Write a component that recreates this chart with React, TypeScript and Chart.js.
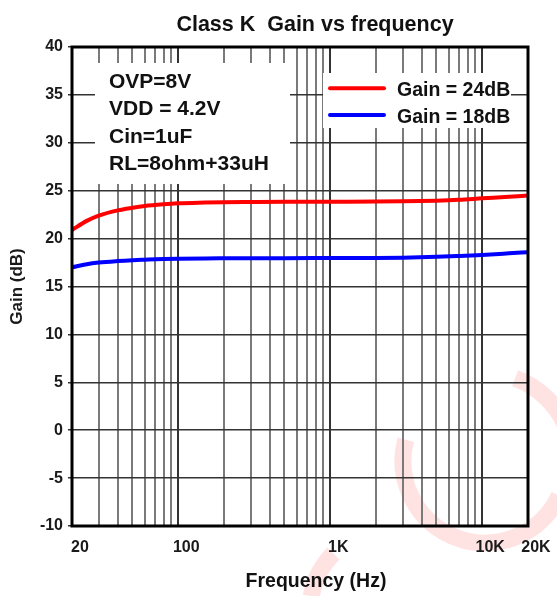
import React, { useEffect, useRef } from 'react';
import { Chart, registerables } from 'chart.js';

Chart.register(...registerables);

// ---- data ----
const FREQ_HZ = [20, 25, 30, 40, 50, 60, 80, 100, 150, 200, 300, 500, 1000, 2000, 3000, 5000, 7000, 10000, 15000, 20000];
const GAIN_24DB = [20.9, 21.85, 22.4, 22.95, 23.22, 23.4, 23.58, 23.68, 23.76, 23.8, 23.82, 23.84, 23.85, 23.86, 23.89, 23.96, 24.05, 24.2, 24.36, 24.5];
const GAIN_18DB = [17.0, 17.33, 17.5, 17.66, 17.75, 17.8, 17.87, 17.9, 17.93, 17.94, 17.95, 17.96, 17.97, 17.98, 18.01, 18.1, 18.19, 18.3, 18.46, 18.58];
const SERIES_LABELS = ['Gain = 24dB', 'Gain = 18dB'];
const SERIES_COLORS = ['#ff0000', '#0000ff'];

const X_GRID_FREQS = [
  20, 30, 40, 50, 60, 70, 80, 90,
  100, 200, 300, 400, 500, 600, 700, 800, 900,
  1000, 2000, 3000, 4000, 5000, 6000, 7000, 8000, 9000,
  10000, 20000,
];
const X_MAJOR_FREQS = [100, 1000, 10000];
const X_TICK_VALUES = [20, 100, 1000, 10000, 20000];
const X_TICK_LABELS = ['20', '100', '1K', '10K', '20K'];
const Y_MIN = -10;
const Y_MAX = 40;
const Y_STEP = 5;

const TITLE = 'Class K  Gain vs frequency';
const X_TITLE = 'Frequency (Hz)';
const Y_TITLE = 'Gain (dB)';
const ANNOTATION_LINES = ['OVP=8V', 'VDD = 4.2V', 'Cin=1uF', 'RL=8ohm+33uH'];

const FONT = '"Liberation Sans", Arial, Helvetica, sans-serif';

const deg = (d: number) => (d * Math.PI) / 180;

const decorPlugin = {
  id: 'decor',
  beforeDraw(chart: any) {
    // faint watermark behind the chart
    const { ctx } = chart;
    ctx.save();
    ctx.strokeStyle = 'rgba(255, 0, 0, 0.11)';
    ctx.lineWidth = 17;
    ctx.beginPath();
    ctx.arc(485, 461, 82, deg(25), deg(195));
    ctx.stroke();
    ctx.beginPath();
    ctx.arc(485, 461, 88, deg(-70), deg(-22));
    ctx.stroke();
    ctx.beginPath();
    ctx.arc(390, 610, 80, deg(190), deg(225));
    ctx.stroke();
    ctx.restore();
  },
  beforeDatasetsDraw(chart: any) {
    const { ctx, chartArea: a } = chart;
    ctx.save();
    // white boxes covering the grid
    ctx.fillStyle = '#ffffff';
    ctx.fillRect(a.left + 23, a.top + 16, 195, 121);
    ctx.fillRect(a.left + 251, a.top + 26, 188, 55);

    ctx.fillStyle = '#111111';
    ctx.textAlign = 'left';
    ctx.textBaseline = 'alphabetic';
    ctx.font = `bold 21px ${FONT}`;
    ANNOTATION_LINES.forEach((t, i) => {
      ctx.fillText(t, a.left + 37, a.top + 41 + i * 27.3);
    });

    ctx.font = `bold 19.5px ${FONT}`;
    chart.data.datasets.forEach((ds: any, i: number) => {
      const y = a.top + 41.3 + i * 26.7;
      ctx.strokeStyle = ds.borderColor;
      ctx.lineWidth = 4;
      ctx.lineCap = 'round';
      ctx.beginPath();
      ctx.moveTo(a.left + 258, y);
      ctx.lineTo(a.left + 312, y);
      ctx.stroke();
      ctx.fillText(ds.label, a.left + 325, y + 7.5);
    });
    ctx.restore();
  },
  afterDatasetsDraw(chart: any) {
    const { ctx, chartArea: a } = chart;
    ctx.save();
    ctx.strokeStyle = '#000000';
    ctx.lineWidth = 3;
    ctx.strokeRect(a.left, a.top, a.right - a.left, a.bottom - a.top);
    ctx.restore();
  },
  afterDraw(chart: any) {
    const { ctx, chartArea: a } = chart;
    const cx = (a.left + a.right) / 2;
    ctx.save();
    ctx.fillStyle = '#111111';
    ctx.textAlign = 'center';
    ctx.textBaseline = 'alphabetic';
    ctx.font = `bold 21.5px ${FONT}`;
    ctx.fillText(TITLE, cx + 15, 31);
    ctx.font = `bold 19.5px ${FONT}`;
    ctx.fillText(X_TITLE, cx + 16, 587);
    ctx.restore();
  },
};

export default function App() {
  const canvasRef = useRef<HTMLCanvasElement | null>(null);

  useEffect(() => {
    if (!canvasRef.current) return;
    Chart.defaults.font.family = FONT;
    const chart = new Chart(canvasRef.current, {
      type: 'line',
      data: {
        datasets: [
          {
            label: SERIES_LABELS[0],
            data: FREQ_HZ.map((f, i) => ({ x: f, y: GAIN_24DB[i] })),
            borderColor: SERIES_COLORS[0],
            backgroundColor: SERIES_COLORS[0],
            borderWidth: 4,
            pointRadius: 0,
            cubicInterpolationMode: 'monotone',
            fill: false,
          },
          {
            label: SERIES_LABELS[1],
            data: FREQ_HZ.map((f, i) => ({ x: f, y: GAIN_18DB[i] })),
            borderColor: SERIES_COLORS[1],
            backgroundColor: SERIES_COLORS[1],
            borderWidth: 4,
            pointRadius: 0,
            cubicInterpolationMode: 'monotone',
            fill: false,
          },
        ],
      },
      options: {
        animation: false,
        responsive: false,
        maintainAspectRatio: false,
        layout: { padding: { top: 47, right: 29, bottom: 0, left: 0 } },
        plugins: {
          legend: { display: false },
          title: { display: false },
          tooltip: { enabled: false },
        },
        scales: {
          x: {
            type: 'logarithmic',
            min: 20,
            max: 20000,
            afterBuildTicks: (s: any) => {
              s.ticks = X_GRID_FREQS.map((v) => ({ value: v }));
            },
            afterFit: (s: any) => {
              s.height = 70;
            },
            grid: {
              color: (c: any) => (X_MAJOR_FREQS.includes(c.tick?.value) ? '#333333' : '#7a7a7a'),
              lineWidth: 2,
              drawTicks: false,
            },
            border: { display: false },
            ticks: {
              autoSkip: false,
              maxRotation: 0,
              minRotation: 0,
              labelOffset: 8,
              padding: 12,
              color: '#1a1a1a',
              font: { size: 16, weight: 'bold' },
              callback: (v: any) => {
                const idx = X_TICK_VALUES.indexOf(Number(v));
                return idx >= 0 ? X_TICK_LABELS[idx] : '';
              },
            },
          },
          y: {
            min: Y_MIN,
            max: Y_MAX,
            afterFit: (s: any) => {
              s.width = 72;
            },
            grid: {
              color: '#333333',
              lineWidth: 1.5,
              drawTicks: true,
              tickLength: 4,
            },
            border: { display: false },
            ticks: {
              stepSize: Y_STEP,
              padding: 5,
              color: '#1a1a1a',
              font: { size: 16, weight: 'bold' },
            },
            title: {
              display: true,
              text: Y_TITLE,
              color: '#1a1a1a',
              font: { size: 17, weight: 'bold' },
              padding: { top: 7, bottom: 0 },
            },
          },
        },
      },
      plugins: [decorPlugin],
    } as any);
    return () => chart.destroy();
  }, []);

  return (
    <div style={{ position: 'fixed', left: 0, top: 0, width: 557, height: 596, background: '#fff' }}>
      <canvas ref={canvasRef} width={557} height={596} />
    </div>
  );
}
